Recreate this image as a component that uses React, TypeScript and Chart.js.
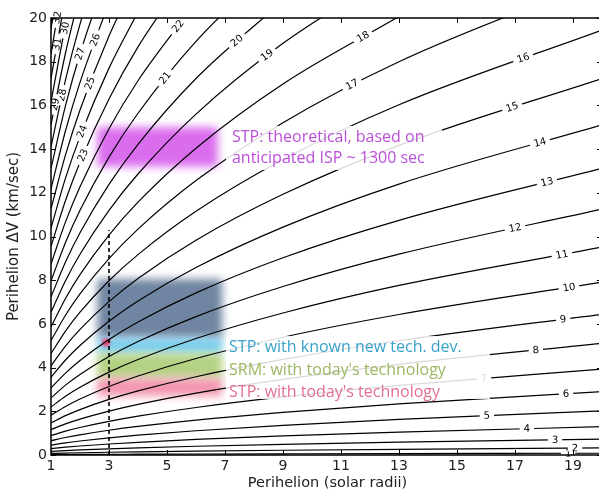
import React, { useEffect, useRef } from "react";
import { Chart, registerables } from "chart.js";
Chart.register(...registerables);

// x positions (perihelion, solar radii) at which each contour is read
const xGrid = [1, 1.5, 2, 3, 4, 6, 9, 13, 20];
// contour lines: perihelion dV (km/s) read at xGrid for each labelled level
const L1 = [0.018, 0.022, 0.026, 0.032, 0.036, 0.045, 0.055, 0.066, 0.081];
const L2 = [0.073, 0.089, 0.103, 0.126, 0.145, 0.178, 0.218, 0.262, 0.325];
const L3 = [0.164, 0.2, 0.231, 0.283, 0.327, 0.401, 0.49, 0.589, 0.73];
const L4 = [0.291, 0.356, 0.411, 0.504, 0.581, 0.712, 0.871, 1.046, 1.295];
const L5 = [0.455, 0.557, 0.642, 0.787, 0.908, 1.111, 1.36, 1.632, 2.02];
const L6 = [0.654, 0.801, 0.925, 1.132, 1.307, 1.598, 1.955, 2.344, 2.9];
const L7 = [0.89, 1.09, 1.258, 1.54, 1.777, 2.173, 2.656, 3.183, 3.93];
const L8 = [1.163, 1.424, 1.643, 2.01, 2.319, 2.835, 3.463, 4.15, 5.11];
const L9 = [1.471, 1.801, 2.078, 2.543, 2.932, 3.583, 4.373, 5.23, 6.44];
const L10 = [1.816, 2.222, 2.564, 3.136, 3.616, 4.416, 5.39, 6.43, 7.91];
const L11 = [2.197, 2.688, 3.101, 3.792, 4.37, 5.333, 6.5, 7.76, 9.51];
const L12 = [2.613, 3.197, 3.688, 4.508, 5.194, 6.335, 7.71, 9.19, 11.25];
const L13 = [3.066, 3.75, 4.325, 5.285, 6.087, 7.42, 9.03, 10.74, 13.12];
const L14 = [3.555, 4.347, 5.012, 6.122, 7.049, 8.58, 10.43, 12.4, 15.11];
const L15 = [4.078, 4.987, 5.749, 7.019, 8.078, 9.83, 11.93, 14.17, 17.23];
const L16 = [4.638, 5.67, 6.535, 7.976, 9.17, 11.15, 13.52, 16.03, 19.45];
const L17 = [5.234, 6.397, 7.371, 8.991, 10.34, 12.56, 15.21, 18.0, 21.79];
const L18 = [5.864, 7.166, 8.255, 10.065, 11.57, 14.04, 16.98, 20.07];
const L19 = [6.53, 7.978, 9.188, 11.197, 12.86, 15.6, 18.84, 22.23];
const L20 = [7.232, 8.832, 10.169, 12.386, 14.22, 17.23, 20.78];
const L21 = [7.968, 9.729, 11.199, 13.632, 15.64, 18.93, 22.8];
const L22 = [8.74, 10.668, 12.276, 14.935, 17.13, 20.71];
const L23 = [9.547, 11.649, 13.4, 16.293, 18.68, 22.55];
const L24 = [10.388, 12.671, 14.571, 17.706, 20.28];
const L25 = [11.266, 13.735, 15.789, 19.174, 21.95];
const L26 = [12.174, 14.84, 17.053, 20.7];
const L27 = [13.119, 15.985, 18.363, 22.27];
const L28 = [14.098, 17.171, 19.719, 23.9];
const L29 = [15.11, 18.398, 21.12];
const L30 = [16.157, 19.664, 22.56];
const L31 = [17.238, 20.971];
const L32 = [18.351, 22.32];
const L33 = [19.499, 23.7];
const contourLines = [L1, L2, L3, L4, L5, L6, L7, L8, L9, L10, L11, L12, L13, L14, L15, L16, L17,
  L18, L19, L20, L21, L22, L23, L24, L25, L26, L27, L28, L29, L30, L31, L32, L33];

// contour labels: level and x position of the label
const labelLevels = [1, 2, 3, 4, 5, 6, 7, 8, 9, 10, 11, 12, 13, 14, 15, 16, 17, 18, 19, 20, 21, 22, 23, 24, 25, 26, 27, 28, 29, 30, 31, 32];
const labelX = [18.83, 19.07, 18.38, 17.41, 16.03, 18.76, 15.93, 17.72, 18.66, 18.86, 18.62, 17.0, 18.1, 17.86, 16.9, 17.28,
  11.38, 11.76, 8.45, 7.41, 4.93, 5.38, 2.1, 2.07, 2.34, 2.52, 2.0, 1.38, 1.14, 1.48, 1.21, 1.21];

// dashed reference line at 3 solar radii
const dashX = [3, 3];
const dashY = [0, 10.3];

// shaded regions
const boxX0 = [2.6, 2.6, 2.6, 2.6, 2.6];
const boxX1 = [6.75, 6.9, 6.9, 6.9, 6.9];
const boxYLow = [13.2, 5.35, 4.65, 3.5, 2.7];
const boxYHigh = [15.0, 8.05, 5.35, 4.65, 3.5];
const boxColors = ["rgba(214,92,236,0.9)", "rgba(92,116,148,0.88)", "rgba(105,200,236,0.9)", "rgba(172,205,118,0.9)", "rgba(242,138,165,0.9)"];
const dotX = [2.9];
const dotY = [5.15];

// annotation texts
const noteTexts = ["STP: theoretical, based on", "anticipated ISP ~ 1300 sec", "STP: with known new tech. dev.", "SRM: with today's technology", "STP: with today's technology"];
const noteX = [7.24, 7.24, 7.14, 7.14, 7.14];
const noteY = [14.55, 13.59, 4.94, 3.89, 2.88];
const noteColors = ["#bb4fd9", "#bb4fd9", "#38a2c9", "#9cb861", "#e2708f"];

const xTicks = [1, 3, 5, 7, 9, 11, 13, 15, 17, 19];
const yTicks = [0, 2, 4, 6, 8, 10, 12, 14, 16, 18, 20];

function evalCurve(pts: any[], px: number) {
  for (let i = 0; i < pts.length - 1; i++) {
    const p0 = pts[i], p1 = pts[i + 1];
    if (px >= p0.x && px <= p1.x) {
      const ax = p0.x, ay = p0.y, dx = p1.x, dy = p1.y;
      const bx = p0.cp2x ?? ax + (dx - ax) / 3, by = p0.cp2y ?? ay + (dy - ay) / 3;
      const cx = p1.cp1x ?? ax + 2 * (dx - ax) / 3, cy = p1.cp1y ?? ay + 2 * (dy - ay) / 3;
      const B = (t: number, a: number, b: number, c: number, d: number) => {
        const u = 1 - t;
        return u * u * u * a + 3 * u * u * t * b + 3 * u * t * t * c + t * t * t * d;
      };
      const D = (t: number, a: number, b: number, c: number, d: number) => {
        const u = 1 - t;
        return 3 * u * u * (b - a) + 6 * u * t * (c - b) + 3 * t * t * (d - c);
      };
      let lo = 0, hi = 1;
      for (let k = 0; k < 40; k++) {
        const m = (lo + hi) / 2;
        if (B(m, ax, bx, cx, dx) < px) lo = m; else hi = m;
      }
      const t = (lo + hi) / 2;
      return {
        x: B(t, ax, bx, cx, dx), y: B(t, ay, by, cy, dy),
        angle: Math.atan2(D(t, ay, by, cy, dy), D(t, ax, bx, cx, dx)),
      };
    }
  }
  return null;
}

const decorPlugin = {
  id: "decor",
  beforeDatasetsDraw(chart: any) {
    const { ctx, scales } = chart;
    const xs = scales.x, ys = scales.y;
    ctx.save();
    ctx.filter = "blur(4px)";
    for (let i = 0; i < boxX0.length; i++) {
      const x0 = xs.getPixelForValue(boxX0[i]);
      const x1 = xs.getPixelForValue(boxX1[i]);
      const y0 = ys.getPixelForValue(boxYHigh[i]);
      const y1 = ys.getPixelForValue(boxYLow[i]);
      ctx.fillStyle = boxColors[i];
      ctx.fillRect(x0, y0, x1 - x0, y1 - y0);
    }
    ctx.filter = "blur(1.5px)";
    ctx.fillStyle = "rgb(235,70,120)";
    for (let i = 0; i < dotX.length; i++) {
      ctx.beginPath();
      ctx.arc(xs.getPixelForValue(dotX[i]), ys.getPixelForValue(dotY[i]), 4, 0, Math.PI * 2);
      ctx.fill();
    }
    ctx.restore();
  },
  afterDatasetsDraw(chart: any) {
    const { ctx, scales, chartArea } = chart;
    const xs = scales.x, ys = scales.y;
    ctx.save();
    // contour labels
    ctx.font = '10px "DejaVu Sans"';
    ctx.textAlign = "center";
    ctx.textBaseline = "middle";
    labelLevels.forEach((lev, k) => {
      const meta = chart.getDatasetMeta(lev - 1);
      const r = evalCurve(meta.data, xs.getPixelForValue(labelX[k]));
      if (!r) return;
      const txt = String(lev);
      const w = ctx.measureText(txt).width;
      ctx.save();
      ctx.translate(r.x, r.y);
      ctx.rotate(r.angle);
      ctx.fillStyle = "#fff";
      ctx.fillRect(-w / 2 - 4, -3, w + 8, 6);
      ctx.fillStyle = "#000";
      ctx.fillText(txt, 0, 0.5);
      ctx.restore();
    });
    // annotation backgrounds
    ctx.fillStyle = "rgba(255,255,255,0.85)";
    ctx.fillRect(226, 126, 442 - 226, 44);
    ctx.fillRect(226, 336, 490 - 226, 63);
    // annotations
    ctx.font = '16px "Open Sans"';
    ctx.textAlign = "left";
    ctx.textBaseline = "middle";
    noteTexts.forEach((t, i) => {
      ctx.fillStyle = noteColors[i];
      ctx.fillText(t, xs.getPixelForValue(noteX[i]), ys.getPixelForValue(noteY[i]));
    });
    // frame
    const { left, right, top, bottom } = chartArea;
    ctx.strokeStyle = "#000";
    ctx.lineWidth = 1.5;
    ctx.strokeRect(left, top, right - left, bottom - top);
    ctx.lineWidth = 1;
    ctx.beginPath();
    xTicks.forEach((v) => {
      const p = Math.round(xs.getPixelForValue(v)) + 0.5;
      ctx.moveTo(p, bottom); ctx.lineTo(p, bottom - 5);
      ctx.moveTo(p, top); ctx.lineTo(p, top + 5);
    });
    yTicks.forEach((v) => {
      const p = Math.round(ys.getPixelForValue(v)) + 0.5;
      ctx.moveTo(left, p); ctx.lineTo(left + 5, p);
      ctx.moveTo(right, p); ctx.lineTo(right - 5, p);
    });
    ctx.stroke();
    // tick labels
    ctx.fillStyle = "#222";
    ctx.font = '14px "DejaVu Sans"';
    ctx.textAlign = "center";
    ctx.textBaseline = "middle";
    xTicks.forEach((v) => ctx.fillText(String(v), xs.getPixelForValue(v), bottom + 11));
    ctx.textAlign = "right";
    yTicks.forEach((v) => ctx.fillText(String(v), left - 4, ys.getPixelForValue(v)));
    // axis titles
    ctx.textAlign = "center";
    ctx.font = '14.5px "DejaVu Sans"';
    ctx.fillText("Perihelion (solar radii)", (left + right) / 2 + 1, 483);
    ctx.save();
    ctx.translate(14, (top + bottom) / 2);
    ctx.rotate(-Math.PI / 2);
    ctx.font = '15px "DejaVu Sans"';
    ctx.fillText("Perihelion \u0394V (km/sec)", 0, 0);
    ctx.restore();
    ctx.restore();
  },
};

export default function App() {
  const ref = useRef<HTMLCanvasElement | null>(null);
  useEffect(() => {
    if (!ref.current) return;
    const datasets: any[] = contourLines.map((arr, i) => ({
      label: "v" + (i + 1),
      data: arr.map((y, j) => ({ x: xGrid[j], y })),
      borderColor: "#000",
      borderWidth: 1.2,
      pointRadius: 0,
      fill: false,
      cubicInterpolationMode: "monotone",
    }));
    datasets.push({
      label: "dash",
      data: dashX.map((x, j) => ({ x, y: dashY[j] })),
      borderColor: "#000",
      borderWidth: 1.6,
      borderDash: [4, 3],
      pointRadius: 0,
      fill: false,
    });
    const chart = new Chart(ref.current, {
      type: "line",
      data: { datasets },
      options: {
        animation: false,
        responsive: false,
        devicePixelRatio: 1,
        parsing: true,
        layout: { padding: { left: 51, top: 18, right: 1, bottom: 36 } },
        elements: { line: { capBezierPoints: false } as any },
        scales: {
          x: { type: "linear", min: 1, max: 20, display: false },
          y: { type: "linear", min: 0, max: 20, display: false },
        },
        plugins: { legend: { display: false }, tooltip: { enabled: false } },
      } as any,
      plugins: [decorPlugin],
    });
    return () => chart.destroy();
  }, []);
  return (
    <div style={{ position: "absolute", left: 0, top: 0, width: 599, height: 491, overflow: "hidden", background: "#fff" }}>
      <canvas ref={ref} width={603} height={491} style={{ width: 603, height: 491, display: "block" }} />
    </div>
  );
}
